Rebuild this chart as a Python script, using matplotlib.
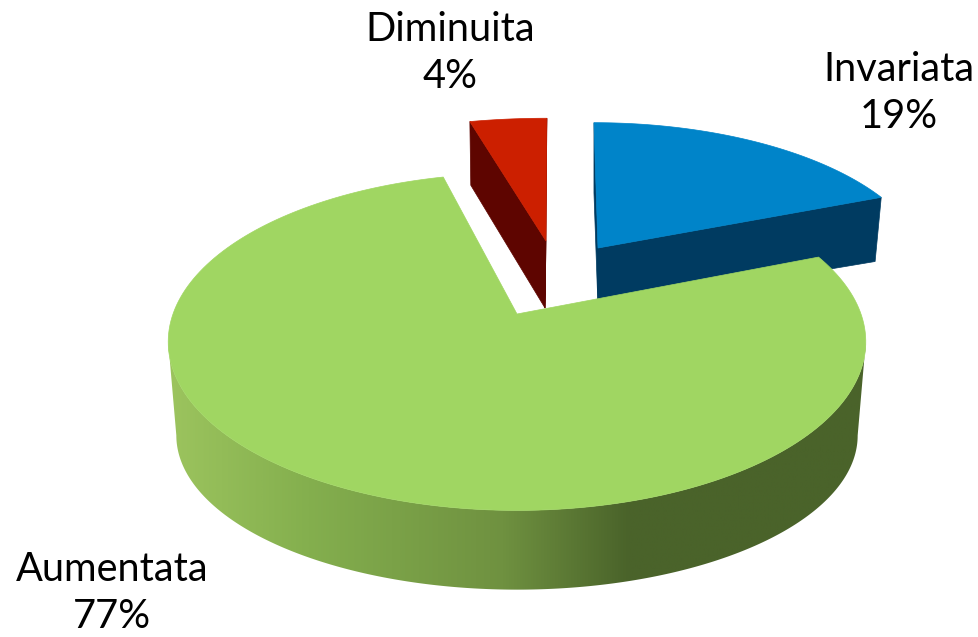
"""Exploded 3D-look pie chart, drawn by hand since matplotlib has no 3D pie."""

import numpy as np
import matplotlib
matplotlib.use("Agg")
import matplotlib.pyplot as plt
from matplotlib.colors import LinearSegmentedColormap
from matplotlib.patches import Polygon

labels = ["Invariata", "Aumentata", "Diminuita"]
values = [19, 77, 4]

TOP_COLORS = ["#0084C9", "#A0D662", "#CC1F00"]
WALL_COLORS = ["#003B61", "#4A632A", "#5E0500"]

# apex x/y, half width, half height, skew for top face then bottom face of each slice
GEOM = [
    {"top": (598, 248, 325, 146, -4.7), "bot": (598, 308, 318, 134, -4.7)},
    {"top": (517, 314, 344, 164, 0), "bot": (517, 410, 336, 150, 0)},
    {"top": (546, 241, 359, 143, 1), "bot": (545, 308, 350, 147, 1)},
]
PERSP = 0.165

LABEL_POS = [(899, 93), (112, 593), (450, 53)]
FONT_SIZE = 28.6


def rim(params, t):
    """Project angles (clockwise from 12 o'clock) onto a tilted disc."""
    x0, y0, a, b, skew = params
    d = 1 + PERSP * np.cos(t)
    return np.column_stack([
        x0 + (a * np.sin(t) + skew * np.cos(t)) / d,
        y0 - b * np.cos(t) / d,
    ])


plt.rcParams["font.family"] = ["Lato", "DejaVu Sans"]

fig = plt.figure(figsize=(9.79, 6.37), dpi=100)
ax = fig.add_axes([0, 0, 1, 1])

edges = np.radians(np.concatenate([[0], np.cumsum(values)]) / sum(values) * 360)

# back slices first, the big green one goes on top
for i in [0, 2, 1]:
    g = GEOM[i]
    t = np.linspace(edges[i], edges[i + 1], 200)
    top_arc = rim(g["top"], t)
    bot_arc = rim(g["bot"], t)
    top_apex = np.array(g["top"][:2], dtype=float)
    bot_apex = np.array(g["bot"][:2], dtype=float)

    if i == 1:
        # outer wall with the shaded gradient, between the two side tangents
        side = np.arccos(-PERSP)
        tw = np.linspace(side, 2 * np.pi - side, 300)
        outline = np.vstack([rim(g["top"], tw), rim(g["bot"], tw)[::-1]])
        wall = Polygon(outline, closed=True, facecolor="none", edgecolor="none")
        ax.add_patch(wall)
        cmap = LinearSegmentedColormap.from_list("wall", [
            (0.0, "#9CC45E"), (0.2, "#84AF4E"), (0.48, "#6F9140"),
            (0.66, "#4A632A"), (1.0, "#4A632A"),
        ])
        grad = np.linspace(0, 1, 512).reshape(1, -1)
        img = ax.imshow(grad, cmap=cmap, extent=(168, 866, 600, 300),
                        aspect="auto", zorder=2)
        img.set_clip_path(wall)
    else:
        # the two radial faces of the pulled out slices
        for k in (0, -1):
            face = [top_apex, top_arc[k], bot_arc[k], bot_apex]
            ax.add_patch(Polygon(face, closed=True, facecolor=WALL_COLORS[i],
                                 edgecolor=WALL_COLORS[i], lw=0.5, zorder=1))

    surface = np.vstack([top_apex, top_arc])
    ax.add_patch(Polygon(surface, closed=True, facecolor=TOP_COLORS[i],
                         edgecolor=TOP_COLORS[i], lw=0.5,
                         zorder=3 if i == 1 else 1.5))

for name, val, (x, y) in zip(labels, values, LABEL_POS):
    ax.text(x, y, f"{name}\n{val}%", ha="center", va="center", color="black",
            fontsize=FONT_SIZE, linespacing=1.36, zorder=5)

ax.set_xlim(0, 979)
ax.set_ylim(637, 0)
ax.axis("off")

fig.savefig("out.png", dpi=100, facecolor="white")
plt.close(fig)
